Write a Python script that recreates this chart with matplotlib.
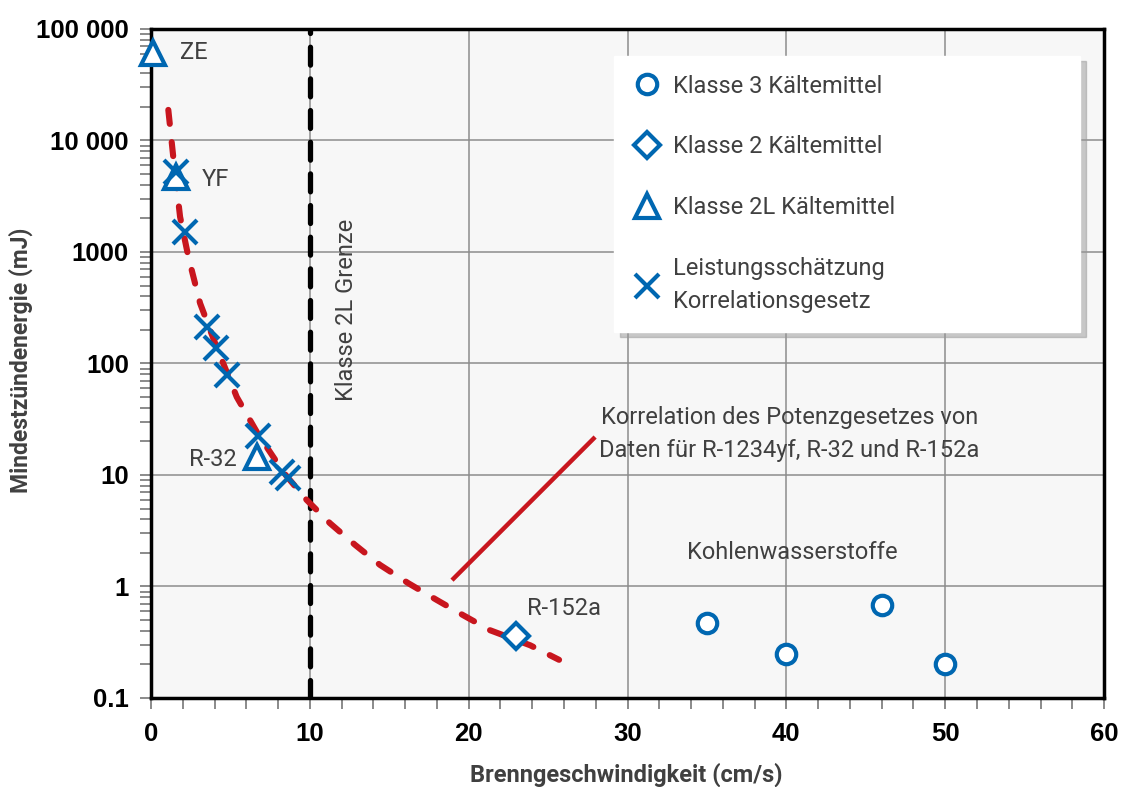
import matplotlib.pyplot as plt
from matplotlib.ticker import MultipleLocator, LogLocator, FixedLocator, FixedFormatter, NullFormatter
from matplotlib.legend_handler import HandlerLine2D

plt.rcParams['font.family'] = ['Roboto', 'DejaVu Sans']

# Klasse 3 (Kohlenwasserstoffe)
class3_x = [35, 40, 46, 50]
class3_y = [0.47, 0.25, 0.68, 0.20]

# Klasse 2
class2_x = [23.0]
class2_y = [0.36]

# Klasse 2L
class2l_x = [0.1, 1.6, 6.7]
class2l_y = [61000, 4700, 14.5]

# Leistungsschaetzung Korrelationsgesetz
est_x = [1.55, 2.14, 3.51, 4.09, 4.80, 6.76, 8.23, 8.63]
est_y = [5250, 1520, 214, 138, 79, 22.4, 10.7, 9.4]

# power law correlation curve
curve_x = [1.09, 1.40, 1.83, 2.35, 3.09, 4.03, 5.40, 6.76, 8.40, 9.80, 11.27, 12.85,
           14.42, 16.20, 17.99, 19.67, 21.35, 23.87, 25.69]
curve_y = [18800, 7160, 2070, 908, 347, 153, 50, 23, 10.3, 5.97, 3.69, 2.36,
           1.56, 1.07, 0.757, 0.551, 0.405, 0.297, 0.22]

# pointer line for the correlation label
pointer_x = [18.95, 27.96]
pointer_y = [1.14, 21.9]

limit_x = 10

ytick_vals = [0.1, 1, 10, 100, 1000, 10000, 100000]
ytick_labels = ['0.1', '1', '10', '100', '1000', '10 000', '100 000']

blue = '#0067b1'
red = '#c8161e'
txt = '#404040'

fig = plt.figure(figsize=(11.26, 7.87), dpi=100)
ax = fig.add_axes([0.1341, 0.1131, 0.8464, 0.8501])
ax.set_facecolor('#f7f7f7')
ax.set_yscale('log')
ax.set_xlim(0, 60)
ax.set_ylim(0.1, 100000)

ax.grid(which='major', color='#8c8c8c', lw=1.1)
ax.set_axisbelow(True)

ax.axvline(limit_x, color='black', lw=3.8, ls=(0, (3.4, 2.6)), dash_capstyle='round', zorder=2)
ax.plot(curve_x, curve_y, color=red, lw=4.4, ls=(0, (2.3, 3.0)), dash_capstyle='round', zorder=3)
ax.plot(pointer_x, pointer_y, color=red, lw=3.2, solid_capstyle='butt', zorder=3)

h3, = ax.plot(class3_x, class3_y, 'o', ls='none', ms=14, mew=3, mec=blue, mfc='white',
              zorder=4, clip_on=False)
h2, = ax.plot(class2_x, class2_y, 'D', ls='none', ms=13, mew=3, mec=blue, mfc='white',
              zorder=4, clip_on=False)
h2l, = ax.plot(class2l_x, class2l_y, '^', ls='none', ms=17, mew=3, mec=blue, mfc='white',
               zorder=4, clip_on=False)
hx, = ax.plot(est_x, est_y, 'x', ls='none', ms=17, mew=3, mec=blue, zorder=5, clip_on=False)

# ticks
ax.xaxis.set_major_locator(MultipleLocator(10))
ax.xaxis.set_minor_locator(MultipleLocator(2))
ax.yaxis.set_major_locator(FixedLocator(ytick_vals))
ax.yaxis.set_major_formatter(FixedFormatter(ytick_labels))
ax.yaxis.set_minor_locator(LogLocator(base=10, subs=range(2, 10), numticks=20))
ax.yaxis.set_minor_formatter(NullFormatter())
ax.tick_params(which='both', direction='out', color='#777777', width=1.2, length=8)
ax.tick_params(axis='y', pad=8)
ax.tick_params(axis='x', pad=9)
for lab in ax.get_xticklabels() + ax.get_yticklabels():
    lab.set_family(['Liberation Sans', 'DejaVu Sans'])
    lab.set_fontweight('bold')
    lab.set_fontsize(18.5)
    lab.set_color('black')

for s in ax.spines.values():
    s.set_linewidth(2.5)
    s.set_color('black')

ax.set_xlabel('Brenngeschwindigkeit (cm/s)', fontsize=17, fontweight='bold', color=txt)
ax.set_ylabel('Mindestzündenergie (mJ)', fontsize=16.5, fontweight='bold', color=txt)
ax.xaxis.set_label_coords(0.499, -0.097)
ax.yaxis.set_label_coords(-0.124, 0.505)

fs = 17
ax.text(1.8, 62000, 'ZE', ha='left', va='center', fontsize=fs, color=txt)
ax.text(3.2, 4430, 'YF', ha='left', va='center', fontsize=fs, color=txt)
ax.text(5.4, 13.9, 'R-32', ha='right', va='center', fontsize=fs, color=txt)
ax.text(23.7, 0.64, 'R-152a', ha='left', va='center', fontsize=fs, color=txt)
ax.text(40.4, 2.0, 'Kohlenwasserstoffe', ha='center', va='center', fontsize=fs, color=txt)
ax.text(40.2, 23.3, 'Korrelation des Potenzgesetzes von\nDaten für R-1234yf, R-32 und R-152a',
        ha='center', va='center', fontsize=fs, color=txt, linespacing=1.55)
ax.text(12.3, 302, 'Klasse 2L Grenze', rotation=90, ha='center', va='center', fontsize=fs, color=txt)

leg = ax.legend([h3, h2, h2l, hx],
                ['Klasse 3 Kältemittel', 'Klasse 2 Kältemittel', 'Klasse 2L Kältemittel',
                 'Leistungsschätzung\nKorrelationsgesetz'],
                loc='upper left', bbox_to_anchor=(0.486, 0.960, 0.489, 0.0), mode='expand',
                borderaxespad=0, numpoints=1, fontsize=fs, handlelength=1.15, handletextpad=0.55,
                borderpad=0.8, labelspacing=1.6, frameon=True, fancybox=False,
                shadow={'color': '0.6', 'alpha': 0.5, 'ox': 4, 'oy': -4},
                handler_map={hx: HandlerLine2D(ypad=-1.5)})
leg.get_frame().set_facecolor('white')
leg.get_frame().set_edgecolor('white')
leg.get_frame().set_alpha(1)
for t in leg.get_texts():
    t.set_color(txt)
    t.set_linespacing(1.55)

fig.savefig('out.png', dpi=100)
